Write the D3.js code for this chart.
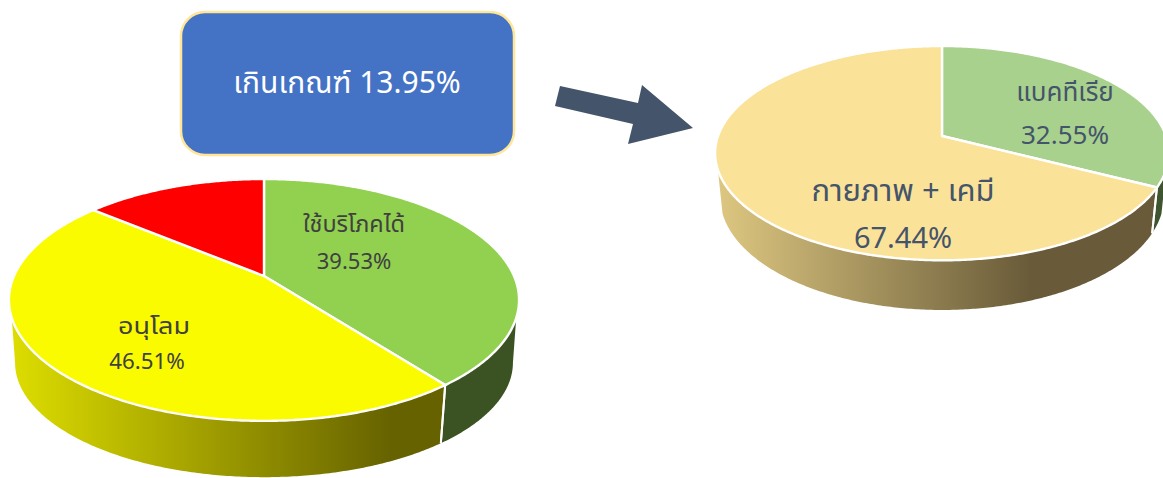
<!DOCTYPE html>
<html><head><meta charset="utf-8">
<script src="https://cdn.jsdelivr.net/npm/d3@7"></script>
<style>html,body{margin:0;padding:0;background:#fff;overflow:hidden}svg{display:block}
text{font-family:"Noto Sans Thai","Noto Sans","DejaVu Sans",sans-serif;text-anchor:middle}</style>
</head><body><svg id="c" width="1163" height="478"></svg>
<script>
const leftCategories = ["ใช้บริโภคได้", "อนุโลม", "เกินเกณฑ์"];
const leftValues = [39.53, 46.51, 13.95];
const leftTop = ["#92d050", "#fbfb00", "#ff0000"];
const rightCategories = ["แบคทีเรีย", "กายภาพ + เคมี"];
const rightValues = [32.55, 67.44];
const rightTop = ["#a9d18e", "#fbe299"];
const calloutText = "เกินเกณฑ์ 13.95%";

const svg = d3.select("#c");
const defs = svg.append("defs");

function grad(id, x1, x2, c1, c2) {
  const g = defs.append("linearGradient").attr("id", id).attr("gradientUnits", "userSpaceOnUse")
    .attr("x1", x1).attr("x2", x2).attr("y1", 0).attr("y2", 0);
  g.append("stop").attr("offset", 0).attr("stop-color", c1);
  g.append("stop").attr("offset", 1).attr("stop-color", c2);
}
grad("gL", 15, 392, "#dcdc00", "#666200");
grad("gR", 720, 1030, "#dcc680", "#695b39");

function drawPie(o) {
  const pie = d3.pie().sort(null).value(d => d)(o.values);
  const proj = (p, a) => {
    const u = Math.sin(a), v = -Math.cos(a), d = 1 - p.k * v;
    return [o.cx + p.R * u / d, p.y + p.S * v / d];
  };
  const top = {R: o.R, S: o.S, y: o.y, k: o.k};
  const bot = {R: o.R2, S: o.S2, y: o.y2, k: o.k};
  const samples = (a0, a1) => {
    const n = Math.max(2, Math.ceil((a1 - a0) / 0.01));
    return d3.range(n + 1).map(i => a0 + (a1 - a0) * i / n);
  };
  const line = d3.line();
  const g = svg.append("g");
  const aT = Math.acos(-o.topV), aB = Math.acos(-o.botV), TAU = Math.PI * 2;
  // side walls: top edge and bottom edge are limited separately so the silhouette is a tangent
  pie.forEach((s, i) => {
    const t0 = Math.max(s.startAngle, aT), t1 = Math.min(s.endAngle, TAU - aT);
    const b0 = Math.max(s.startAngle, aB), b1 = Math.min(s.endAngle, TAU - aB);
    if (t1 <= t0 || b1 <= b0) return;
    const pts = samples(t0, t1).map(a => proj(top, a))
      .concat(samples(b0, b1).reverse().map(a => proj(bot, a)));
    g.append("path").attr("d", line(pts) + "Z").attr("fill", o.sides[i]);
  });
  // white separators on the side wall
  pie.forEach(s => {
    [s.startAngle, s.endAngle].forEach(a => {
      if (a > Math.PI * 0.5 && a < Math.PI * 1.5)
        g.append("path").attr("d", line([proj(top, a), proj(bot, a)]))
          .attr("stroke", "#fff").attr("stroke-width", 2).attr("fill", "none");
    });
  });
  // top slices
  pie.forEach((s, i) => {
    const pts = [[o.cx, o.y]].concat(samples(s.startAngle, s.endAngle).map(a => proj(top, a)));
    g.append("path").attr("d", line(pts) + "Z").attr("fill", o.tops[i])
      .attr("stroke", "#fff").attr("stroke-width", 2.4).attr("stroke-linejoin", "round");
  });
  // labels
  o.labels.forEach(l => {
    const t = g.append("text").attr("x", l.x).attr("y", l.y1).attr("font-size", l.fs1).attr("fill", o.color).text(o.cats[l.i]);
    if (l.len) t.attr("textLength", l.len).attr("lengthAdjust", "spacingAndGlyphs");
    g.append("text").attr("x", l.x2).attr("y", l.y2).attr("font-size", l.fs2).attr("fill", o.color)
      .text(o.values[l.i].toFixed(2) + "%");
  });
}

drawPie({cx: 264, y: 276, R: 250, S: 116.2, k: 0.198, R2: 244, S2: 110, y2: 340, topV: 0.337, botV: 0.198,
  values: leftValues, cats: leftCategories, tops: leftTop,
  sides: ["#3b5323", "url(#gL)", "#7f0000"], color: "#404040",
  labels: [{i: 0, x: 354, y1: 232, fs1: 23.4, x2: 354, y2: 269, fs2: 22},
           {i: 1, x: 154, y1: 334, fs1: 23, len: 72, x2: 147, y2: 369, fs2: 22.3}]});

drawPie({cx: 942, y: 136, R: 224, S: 104.4, k: 0.16, R2: 219, S2: 110, y2: 179, topV: 0.31, botV: 0.30,
  values: rightValues, cats: rightCategories, tops: rightTop,
  sides: ["#3f5530", "url(#gR)"], color: "#44546a",
  labels: [{i: 0, x: 1065, y1: 101, fs1: 26, x2: 1065, y2: 144, fs2: 26},
           {i: 1, x: 903, y1: 201, fs1: 31, x2: 903, y2: 248, fs2: 29}]});

// callout
svg.append("rect").attr("x", 181).attr("y", 12).attr("width", 333).attr("height", 143).attr("rx", 24)
  .attr("fill", "#4472c4").attr("stroke", "#ffe699").attr("stroke-width", 2.5);
svg.append("text").attr("x", 347).attr("y", 93).attr("font-size", 30).attr("fill", "#fff").text(calloutText);
// arrow
svg.append("polygon").attr("points", "560,86 638,103 642,85 693,128 628,144 633,124 555,106").attr("fill", "#44546a");
</script></body></html>
